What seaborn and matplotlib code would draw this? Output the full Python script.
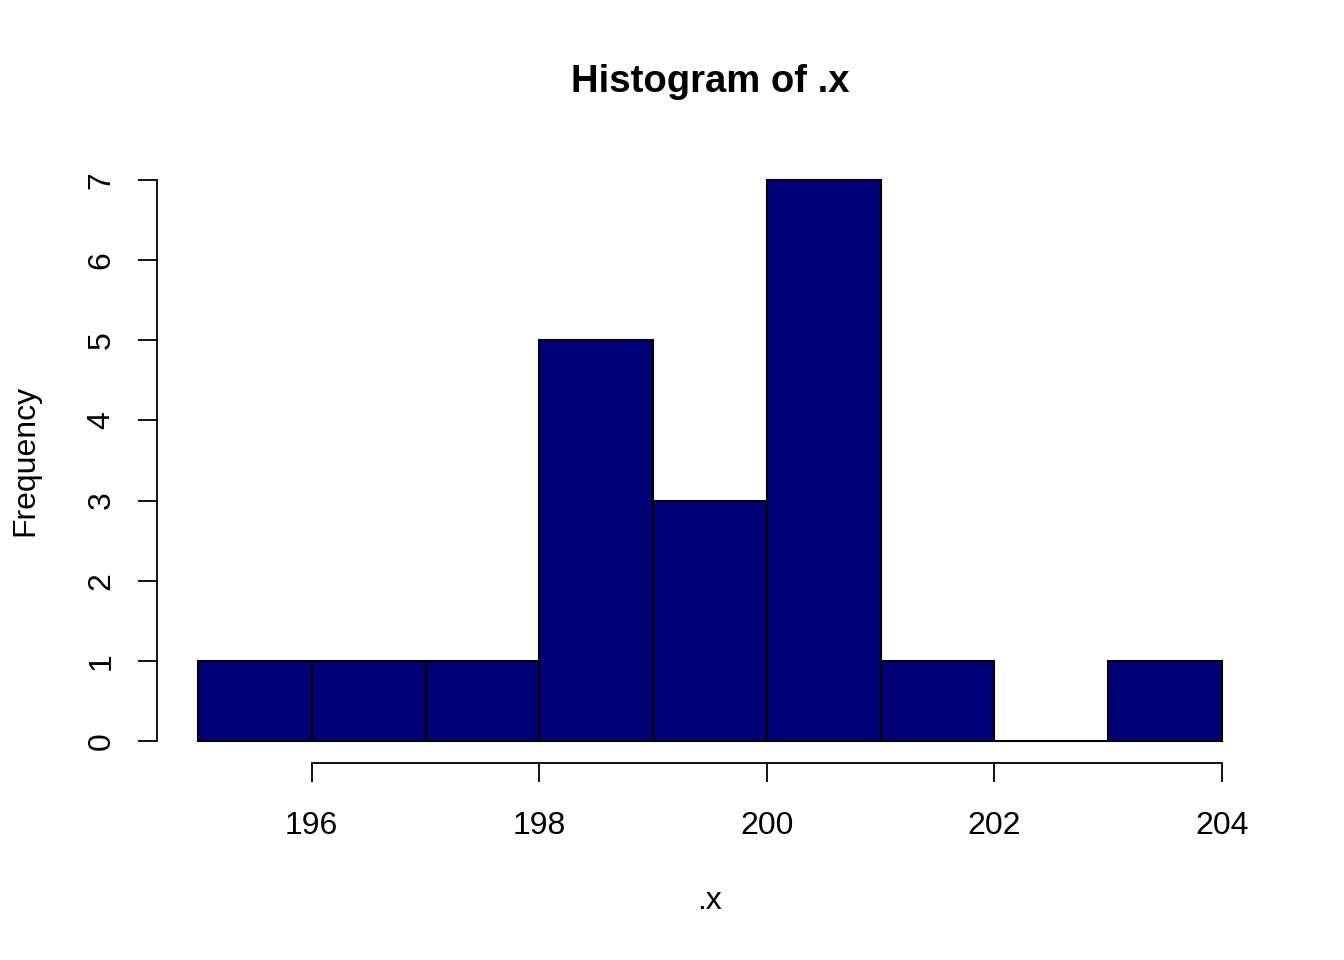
import numpy as np
import matplotlib
matplotlib.use("Agg")
import matplotlib.pyplot as plt
import seaborn as sns

# histogram of .x: bin edges and counts
bin_edges = [195, 196, 197, 198, 199, 200, 201, 202, 203, 204]
counts = [1, 1, 1, 5, 3, 7, 1, 0, 1]
bin_mids = [(a + b) / 2 for a, b in zip(bin_edges[:-1], bin_edges[1:])]

x_ticks = [196, 198, 200, 202, 204]
y_ticks = [0, 1, 2, 3, 4, 5, 6, 7]

sns.set_style("white")
plt.rcParams['font.family'] = ['Liberation Sans', 'DejaVu Sans']
plt.rcParams['text.color'] = 'black'
plt.rcParams['axes.labelcolor'] = 'black'
plt.rcParams['xtick.color'] = 'black'
plt.rcParams['ytick.color'] = 'black'

fig = plt.figure(figsize=(13.44, 9.6), dpi=100)
ax = fig.add_axes([0.1168, 0.2048, 0.8229, 0.631])

sns.histplot(x=bin_mids, weights=counts, bins=bin_edges, ax=ax,
             color="#000077", alpha=1, edgecolor="black", linewidth=1.5)

ax.set_xlim(194.64, 204.36)
ax.set_ylim(-0.28, 7.28)

ax.spines['top'].set_visible(False)
ax.spines['right'].set_visible(False)
ax.spines['left'].set_bounds(0, 7)
ax.spines['bottom'].set_bounds(196, 204)
for s in ['left', 'bottom']:
    ax.spines[s].set_linewidth(1.3)
    ax.spines[s].set_color("black")

ax.set_xticks(x_ticks)
ax.set_yticks(y_ticks)
ax.tick_params(axis='both', direction='out', length=14, width=1.3,
               labelsize=23, labelcolor="black", left=True, bottom=True)
ax.tick_params(axis='x', pad=20)
ax.tick_params(axis='y', pad=15)
for lbl in ax.get_yticklabels():
    lbl.set_rotation(90)
    lbl.set_va('center')

ax.set_xlabel(".x", fontsize=23, labelpad=33, color="black")
ax.set_ylabel("Frequency", fontsize=23, labelpad=33, color="black")
ax.set_title("Histogram of .x", fontsize=27.5, fontweight='bold', pad=47,
             color="black")

fig.savefig("out.png", dpi=100)
